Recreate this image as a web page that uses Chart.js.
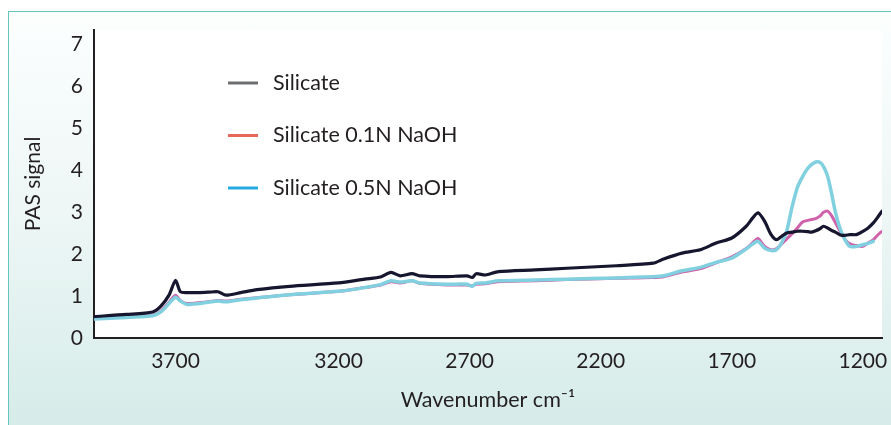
<!DOCTYPE html>
<html>
<head>
<meta charset="utf-8">
<script src="https://cdn.jsdelivr.net/npm/chart.js@4/dist/chart.umd.min.js"></script>
<style>
  html, body { margin: 0; padding: 0; background: #ffffff; overflow: hidden; }
  #panel {
    position: absolute; left: 8px; top: 11px; width: 900px; height: 430px;
    border-left: 1px solid #62c6bd; border-top: 1px solid #62c6bd;
    background: linear-gradient(to bottom, #fcfefe 0%, #eef7f6 45%, #d4ebe8 100%);
  }
  #chartPas { position: absolute; left: 0; top: 0; }
</style>
</head>
<body>
<div id="panel"></div>
<canvas id="chartPas" width="891" height="425"></canvas>
<script>
// wavenumber (cm-1) grid
const wavenumbers = [3950, 3850, 3770, 3745, 3720, 3700, 3685, 3665, 3600, 3570, 3545, 3500, 3450, 3350,
  3200, 3100, 3040, 3000, 2965, 2920, 2890, 2790, 2710, 2690, 2675, 2640, 2590, 2450, 2330, 2140,
  2000, 1960, 1890, 1820, 1760, 1700, 1645, 1620, 1600, 1575, 1550, 1530, 1510, 1490, 1470, 1450,
  1430, 1410, 1395, 1380, 1364, 1350, 1335, 1320, 1305, 1288, 1270, 1250, 1225, 1200, 1180, 1160,
  1145, 1127];

const silicate = [0.51, 0.56, 0.62, 0.76, 1.02, 1.37, 1.10, 1.08, 1.09, 1.10, 1.02, 1.08, 1.15, 1.23,
  1.31, 1.40, 1.45, 1.56, 1.48, 1.53, 1.48, 1.46, 1.48, 1.44, 1.53, 1.50, 1.58, 1.62, 1.66, 1.72,
  1.78, 1.88, 2.02, 2.10, 2.26, 2.38, 2.66, 2.86, 2.98, 2.78, 2.46, 2.34, 2.42, 2.50, 2.52, 2.54,
  2.54, 2.53, 2.52, 2.55, 2.60, 2.66, 2.62, 2.56, 2.52, 2.46, 2.44, 2.46, 2.46, 2.54, 2.62, 2.74,
  2.86, 3.02];

const naoh01 = [0.46, 0.50, 0.54, 0.64, 0.85, 1.02, 0.89, 0.82, 0.86, 0.89, 0.88, 0.92, 0.96, 1.03,
  1.11, 1.20, 1.26, 1.34, 1.31, 1.36, 1.30, 1.26, 1.26, 1.24, 1.28, 1.29, 1.34, 1.36, 1.39, 1.42,
  1.44, 1.46, 1.57, 1.65, 1.79, 1.93, 2.13, 2.27, 2.37, 2.18, 2.10, 2.12, 2.24, 2.36, 2.48, 2.62,
  2.76, 2.80, 2.82, 2.84, 2.90, 2.99, 3.02, 2.92, 2.75, 2.55, 2.36, 2.24, 2.20, 2.18, 2.26, 2.34,
  2.44, 2.54];

const naoh05 = [0.45, 0.49, 0.53, 0.62, 0.82, 0.97, 0.88, 0.80, 0.85, 0.88, 0.86, 0.91, 0.95, 1.03,
  1.11, 1.20, 1.27, 1.36, 1.33, 1.36, 1.31, 1.28, 1.28, 1.23, 1.30, 1.31, 1.36, 1.38, 1.40, 1.43,
  1.46, 1.48, 1.60, 1.68, 1.80, 1.90, 2.12, 2.24, 2.30, 2.14, 2.08, 2.10, 2.26, 2.56, 3.12, 3.58,
  3.84, 4.04, 4.13, 4.19, 4.18, 4.08, 3.86, 3.46, 3.00, 2.62, 2.36, 2.18, 2.18, 2.22, 2.25, 2.30,
  null, null];

const seriesLabels = ['Silicate', 'Silicate 0.1N NaOH', 'Silicate 0.5N NaOH'];
const lineColors = ['#17162f', '#cf62aa', '#80d0e0'];
const legendColors = ['#6d6e71', '#e8675b', '#27aae1'];
const xTicks = [3700, 3200, 2700, 2200, 1700, 1200];
const yTicks = [0, 1, 2, 3, 4, 5, 6, 7];

const FONT = 'Lato, "Noto Sans", sans-serif';
const INK = '#231f20';

// axis is stretched above 3200 cm-1 in the original figure
const BREAK_AT = 3200;
const STRETCH = 1.244;

class WarpScale extends Chart.LinearScale {
    static id = 'warp';
    static defaults = Chart.LinearScale.defaults;

    warp(v) {
        return v > BREAK_AT ? BREAK_AT + (v - BREAK_AT) * STRETCH : v;
    }
    getPixelForValue(value) {
        const a = this.warp(this.min);
        const b = this.warp(this.max);
        return this.getPixelForDecimal((this.warp(value) - a) / (b - a));
    }
    getValueForPixel(pixel) {
        const a = this.warp(this.min);
        const b = this.warp(this.max);
        const u = a + this.getDecimalForPixel(pixel) * (b - a);
        return u > BREAK_AT ? BREAK_AT + (u - BREAK_AT) / STRETCH : u;
    }
}
Chart.register(WarpScale);

// white plot area
const plotBackground = {
    id: 'plotBackground',
    beforeDraw(chart) {
        const {ctx, chartArea} = chart;
        ctx.save();
        ctx.fillStyle = '#ffffff';
        ctx.fillRect(chartArea.left, chartArea.top, chartArea.right - chartArea.left, chartArea.bottom - chartArea.top);
        ctx.restore();
    }
};

// legend sits inside the plot, stacked
const insideLegend = {
    id: 'insideLegend',
    afterDraw(chart) {
        const ctx = chart.ctx;
        ctx.save();
        ctx.font = '21.5px ' + FONT;
        ctx.textBaseline = 'middle';
        ctx.lineWidth = 3;
        chart.data.datasets.forEach((ds, i) => {
            const y = 83 + i * 52.5;
            ctx.strokeStyle = legendColors[i];
            ctx.beginPath();
            ctx.moveTo(228, y);
            ctx.lineTo(258, y);
            ctx.stroke();
            ctx.fillStyle = INK;
            ctx.fillText(ds.label, 273, y);
        });
        ctx.restore();
    }
};

const makeSet = (i, values, width, order) => ({
    label: seriesLabels[i],
    data: wavenumbers.map((w, k) => ({x: w, y: values[k]})),
    borderColor: lineColors[i],
    borderWidth: width,
    pointRadius: 0,
    tension: 0.25,
    borderJoinStyle: 'round',
    borderCapStyle: 'round',
    order: order
});

new Chart(document.getElementById('chartPas'), {
    type: 'line',
    data: {
        datasets: [
            makeSet(0, silicate, 3.2, 0),
            makeSet(1, naoh01, 3, 2),
            makeSet(2, naoh05, 3.5, 1)
        ]
    },
    options: {
        responsive: false,
        animation: false,
        devicePixelRatio: 1,
        layout: { padding: { top: 30, right: 9, left: 0, bottom: 0 } },
        plugins: {
            legend: { display: false },
            tooltip: { enabled: false }
        },
        scales: {
            x: {
                type: 'warp',
                reverse: true,
                min: 1127,
                max: 3950,
                grid: { display: false, drawTicks: false },
                border: { display: true, color: INK, width: 2 },
                afterBuildTicks: (scale) => { scale.ticks = xTicks.map(v => ({value: v})); },
                afterFit: (scale) => {
                    scale.height = 87;
                    scale.paddingLeft = 0;
                    scale.paddingRight = 0;
                },
                ticks: {
                    padding: 11,
                    maxRotation: 0,
                    autoSkip: false,
                    color: INK,
                    font: { family: FONT, size: 21 },
                    callback: (v) => String(v)
                },
                title: {
                    display: true,
                    text: 'Wavenumber cm⁻¹',
                    color: INK,
                    font: { family: FONT, size: 21.5 },
                    padding: { top: 0, bottom: 12 }
                }
            },
            y: {
                min: 0,
                max: 7.33,
                grid: { display: false, drawTicks: false },
                border: { display: true, color: INK, width: 2 },
                afterBuildTicks: (scale) => { scale.ticks = yTicks.map(v => ({value: v})); },
                afterFit: (scale) => {
                    scale.width = 94;
                    scale.paddingTop = 0;
                    scale.paddingBottom = 0;
                },
                ticks: {
                    padding: 11,
                    color: INK,
                    font: { family: FONT, size: 21 }
                },
                title: {
                    display: true,
                    text: 'PAS signal',
                    color: INK,
                    font: { family: FONT, size: 21 },
                    padding: { top: 21, bottom: 0 }
                }
            }
        }
    },
    plugins: [plotBackground, insideLegend]
});
</script>
</body>
</html>
